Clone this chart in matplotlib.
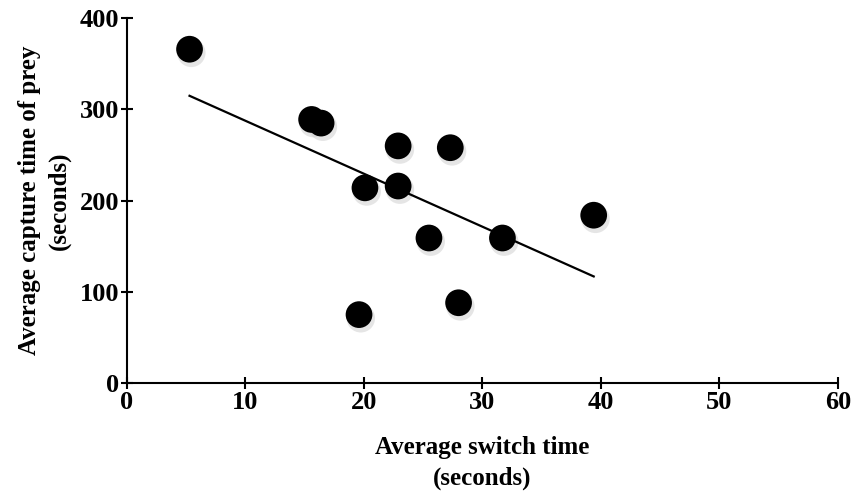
import numpy as np
import matplotlib.pyplot as plt

plt.rcParams['font.family'] = ['Liberation Serif', 'DejaVu Serif']
plt.rcParams['font.weight'] = 'bold'

# Average switch time (s) vs average capture time of prey (s)
switch_time = [5.3, 15.6, 16.4, 22.9, 27.3, 20.1, 22.9, 39.4, 25.5, 31.7, 28.0, 19.6]
capture_time = [366, 289, 285, 260, 258, 214, 216, 184, 159, 159, 88, 75]

x = np.array(switch_time)
y = np.array(capture_time)

fig = plt.figure(figsize=(8.62, 4.92), dpi=100)
ax = fig.add_axes([0.147, 0.2215, 0.825, 0.7415])

# soft shadow under the markers
ax.scatter(x + 0.15, y - 4, s=420, color='0.8', alpha=0.5, edgecolors='none', zorder=2)
ax.scatter(x, y, s=370, color='black', edgecolors='none', zorder=3)

# linear fit
slope, intercept = np.polyfit(x, y, 1)
xl = np.array([x.min(), x.max()])
ax.plot(xl, slope * xl + intercept, color='black', lw=1.6, zorder=4)

ax.set_xlim(0, 60)
ax.set_ylim(0, 400)
ax.set_xticks(range(0, 61, 10))
ax.set_yticks(range(0, 401, 100))
ax.spines['top'].set_visible(False)
ax.spines['right'].set_visible(False)
ax.spines['left'].set_linewidth(1.5)
ax.spines['bottom'].set_linewidth(1.5)
ax.tick_params(direction='inout', length=9, width=1.5, labelsize=19, pad=1)

ax.set_xlabel('Average switch time\n(seconds)', fontsize=18, fontweight='bold', labelpad=16, linespacing=1.45)
ax.set_ylabel('Average capture time of prey\n(seconds)', fontsize=18, fontweight='bold', labelpad=6, linespacing=1.4)

fig.savefig('out.png', dpi=100)
